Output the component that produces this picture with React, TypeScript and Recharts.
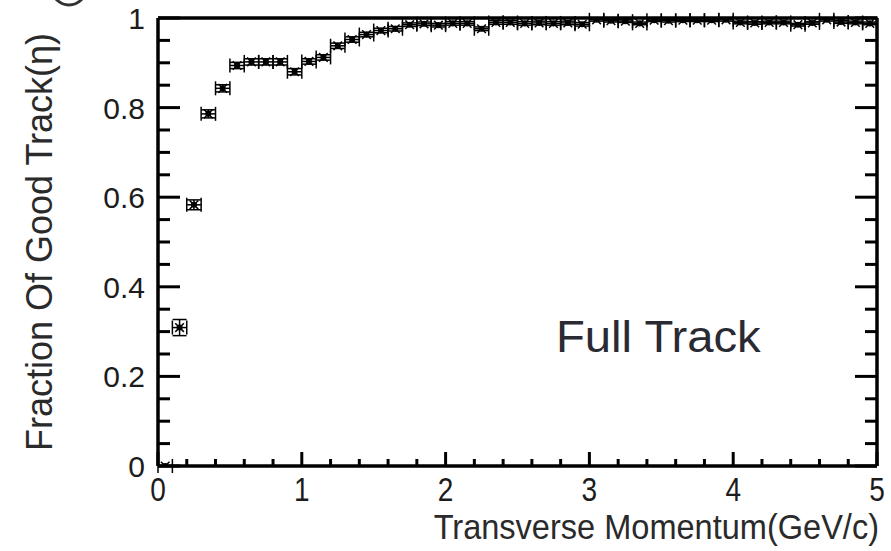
import { ErrorBar, Scatter, ScatterChart, XAxis, YAxis } from "recharts";

// pT bin centres (GeV/c), 0.1 wide bins
const ptBins = [
  0.05, 0.15, 0.25, 0.35, 0.45, 0.55, 0.65, 0.75, 0.85, 0.95,
  1.05, 1.15, 1.25, 1.35, 1.45, 1.55, 1.65, 1.75, 1.85, 1.95,
  2.05, 2.15, 2.25, 2.35, 2.45, 2.55, 2.65, 2.75, 2.85, 2.95,
  3.05, 3.15, 3.25, 3.35, 3.45, 3.55, 3.65, 3.75, 3.85, 3.95,
  4.05, 4.15, 4.25, 4.35, 4.45, 4.55, 4.65, 4.75, 4.85, 4.95,
];

const goodFraction = [
  0.0, 0.309, 0.583, 0.786, 0.843, 0.894, 0.902, 0.902, 0.902, 0.88,
  0.903, 0.912, 0.938, 0.952, 0.963, 0.972, 0.976, 0.985, 0.987, 0.984,
  0.988, 0.988, 0.976, 0.99, 0.99, 0.988, 0.989, 0.988, 0.989, 0.986,
  0.996, 0.994, 0.993, 0.988, 0.995, 0.994, 0.995, 0.995, 0.995, 0.996,
  0.99, 0.989, 0.99, 0.99, 0.985, 0.989, 0.996, 0.991, 0.99, 0.988,
];

const fractionErr = [
  0.0, 0.018, 0.011, 0.009, 0.008, 0.007, 0.007, 0.007, 0.007, 0.007,
  0.006, 0.006, 0.006, 0.006, 0.005, 0.005, 0.005, 0.004, 0.004, 0.004,
  0.004, 0.004, 0.004, 0.004, 0.004, 0.004, 0.004, 0.004, 0.004, 0.004,
  0.003, 0.003, 0.003, 0.003, 0.003, 0.003, 0.003, 0.003, 0.003, 0.003,
  0.003, 0.003, 0.003, 0.003, 0.003, 0.003, 0.003, 0.003, 0.003, 0.003,
];

const binHalfWidth = 0.05;

const xTicks = [
  0, 0.2, 0.4, 0.6, 0.8, 1, 1.2, 1.4, 1.6, 1.8, 2, 2.2, 2.4, 2.6, 2.8,
  3, 3.2, 3.4, 3.6, 3.8, 4, 4.2, 4.4, 4.6, 4.8, 5,
];
const yTicks = [
  0, 0.05, 0.1, 0.15, 0.2, 0.25, 0.3, 0.35, 0.4, 0.45, 0.5,
  0.55, 0.6, 0.65, 0.7, 0.75, 0.8, 0.85, 0.9, 0.95, 1,
];
const xLabels = [0, 1, 2, 3, 4, 5];
const yLabels = [0, 0.2, 0.4, 0.6, 0.8, 1];

const rows = ptBins.map((pt, i) => ({
  pt,
  frac: goodFraction[i],
  ex: binHalfWidth,
  ey: fractionErr[i],
}));

const FONT = "'Liberation Sans', Arial, Helvetica, sans-serif";
const INK = "#000";
const TEXT = "#1c1c1c";
const FRAME = { stroke: INK, strokeWidth: 3.5 };

function BottomTick({ x, y, payload }: any) {
  const major = xLabels.includes(payload.value);
  return (
    <g>
      <line x1={x} y1={y} x2={x} y2={y - (major ? 14 : 7)} stroke={INK} strokeWidth={3} />
      {major && (
        <text
          transform={`translate(${x},${y + 35}) scale(0.85,1)`}
          textAnchor="middle"
          fontSize={33}
          fontFamily={FONT}
          fill={TEXT}
        >
          {payload.value}
        </text>
      )}
    </g>
  );
}

function TopTick({ x, y, payload }: any) {
  const major = xLabels.includes(payload.value);
  return <line x1={x} y1={y} x2={x} y2={y + (major ? 13 : 7)} stroke={INK} strokeWidth={3} />;
}

function LeftTick({ x, y, payload }: any) {
  const major = yLabels.includes(payload.value);
  return (
    <g>
      <line x1={x} y1={y} x2={x + (major ? 22 : 12)} y2={y} stroke={INK} strokeWidth={3} />
      {major && (
        <text x={x - 13} y={y + 11} textAnchor="end" fontSize={30} fontFamily={FONT} fill={TEXT}>
          {payload.value}
        </text>
      )}
    </g>
  );
}

function RightTick({ x, y, payload }: any) {
  const major = yLabels.includes(payload.value);
  return <line x1={x} y1={y} x2={x - (major ? 22 : 12)} y2={y} stroke={INK} strokeWidth={3} />;
}

// ROOT-style "*" marker with a filled centre
function StarMarker({ cx, cy }: any) {
  const r = 6;
  const d = r * 0.72;
  return (
    <g stroke={INK} strokeWidth={1.5}>
      <line x1={cx - d} y1={cy - d} x2={cx + d} y2={cy + d} />
      <line x1={cx - d} y1={cy + d} x2={cx + d} y2={cy - d} />
      <circle cx={cx} cy={cy} r={2.3} fill={INK} />
    </g>
  );
}

const axisCommon = {
  type: "number" as const,
  interval: 0 as const,
  allowDataOverflow: true,
  tickSize: 0,
  tickMargin: 0,
  tickLine: false,
  axisLine: FRAME,
};

export default function App() {
  return (
    <div style={{ position: "absolute", left: 0, top: 0, width: 891, height: 551, background: "#fff" }}>
      <ScatterChart
        width={891}
        height={551}
        margin={{ top: 17, right: 13, bottom: 55, left: 98 }}
      >
        <XAxis
          {...axisCommon}
          xAxisId="b"
          dataKey="pt"
          domain={[0, 5]}
          ticks={xTicks}
          height={30}
          tick={(p: any) => <BottomTick {...p} />}
        />
        <XAxis
          {...axisCommon}
          xAxisId="t"
          orientation="top"
          domain={[0, 5]}
          ticks={xTicks}
          height={1}
          tick={(p: any) => <TopTick {...p} />}
        />
        <YAxis
          {...axisCommon}
          yAxisId="l"
          dataKey="frac"
          domain={[0, 1]}
          ticks={yTicks}
          width={60}
          tick={(p: any) => <LeftTick {...p} />}
        />
        <YAxis
          {...axisCommon}
          yAxisId="r"
          orientation="right"
          domain={[0, 1]}
          ticks={yTicks}
          width={1}
          tick={(p: any) => <RightTick {...p} />}
        />
        <Scatter
          data={rows}
          xAxisId="b"
          yAxisId="l"
          shape={(p: any) => <StarMarker {...p} />}
          isAnimationActive={false}
        >
          <ErrorBar dataKey="ex" direction="x" width={7} stroke={INK} strokeWidth={1.5} />
          <ErrorBar dataKey="ey" direction="y" width={7} stroke={INK} strokeWidth={1.5} />
        </Scatter>

        <text
          transform="translate(39,242) rotate(-90)"
          textAnchor="middle"
          dominantBaseline="central"
          fontSize={36}
          fontFamily={FONT}
          fill="#2a2a2a"
        >
          Fraction Of Good Track(η)
        </text>
        <text
          transform="translate(879,539) scale(0.93,1)"
          textAnchor="end"
          fontSize={35}
          fontFamily={FONT}
          fill="#2a2a2a"
        >
          Transverse Momentum(GeV/c)
        </text>
        <text
          transform="translate(556,352) scale(1.05,1)"
          fontSize={45}
          fontFamily={FONT}
          fill="#2a2a33"
        >
          Full Track
        </text>
        <circle cx={69} cy={-12} r={17} fill="none" stroke="#333" strokeWidth={3} />
      </ScatterChart>
    </div>
  );
}
